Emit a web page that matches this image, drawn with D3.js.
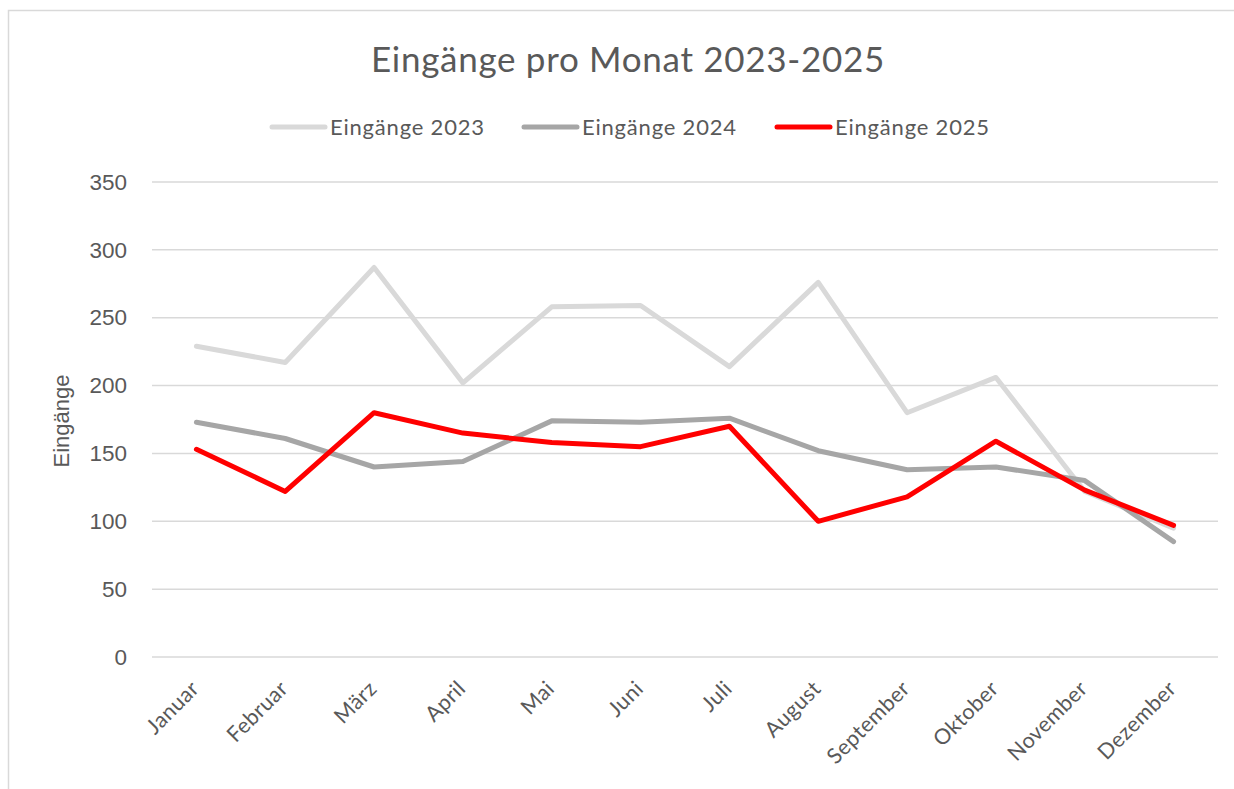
<!DOCTYPE html>
<html>
<head>
<meta charset="utf-8">
<script src="https://cdn.jsdelivr.net/npm/d3@7"></script>
<style>
  body { margin: 0; background: #fff; }
  text { fill: #595959; }
</style>
</head>
<body>
<script>
var months = ["Januar", "Februar", "März", "April", "Mai", "Juni", "Juli", "August", "September", "Oktober", "November", "Dezember"];
var eingaenge2023 = [229, 217, 287, 202, 258, 259, 214, 276, 180, 206, 122, 95];
var eingaenge2024 = [173, 161, 140, 144, 174, 173, 176, 152, 138, 140, 130, 85];
var eingaenge2025 = [153, 122, 180, 165, 158, 155, 170, 100, 118, 159, 123, 97];
var yTicks = [0, 50, 100, 150, 200, 250, 300, 350];

var series = [
  { name: "Eingänge 2023", values: eingaenge2023, color: "#d9d9d9" },
  { name: "Eingänge 2024", values: eingaenge2024, color: "#a6a6a6" },
  { name: "Eingänge 2025", values: eingaenge2025, color: "#ff0000" }
];

var w = 1234, h = 789;
var plotLeft = 152, plotRight = 1218, plotTop = 182, plotBottom = 657;

var svg = d3.select("body").append("svg")
    .attr("width", w)
    .attr("height", h);

// chart frame
svg.append("rect")
    .attr("x", 8.5).attr("y", 10.5)
    .attr("width", 1240).attr("height", 790)
    .attr("fill", "none")
    .attr("stroke", "#d9d9d9")
    .attr("stroke-width", 1.5);

var x = d3.scaleBand().domain(months).range([plotLeft, plotRight]);
var y = d3.scaleLinear().domain([0, 350]).range([plotBottom, plotTop]);

// gridlines
svg.append("g").selectAll("line")
    .data(yTicks)
  .enter().append("line")
    .attr("x1", plotLeft).attr("x2", plotRight)
    .attr("y1", function(d) { return y(d); })
    .attr("y2", function(d) { return y(d); })
    .attr("stroke", "#d9d9d9")
    .attr("stroke-width", 1.5);

// y axis labels
var yAxis = d3.axisLeft(y).tickValues(yTicks).tickSize(0).tickPadding(0);
var gy = svg.append("g")
    .attr("transform", "translate(127,0)")
    .call(yAxis);
gy.select(".domain").remove();
gy.selectAll("text")
    .attr("font-family", "Liberation Sans, Arial, sans-serif")
    .attr("font-size", 22.5)
    .attr("fill", "#595959");

// x axis labels
var xAxis = d3.axisBottom(x).tickSize(0).tickPadding(0);
var gx = svg.append("g")
    .attr("transform", "translate(0," + plotBottom + ")")
    .call(xAxis);
gx.select(".domain").remove();
gx.selectAll("text")
    .attr("font-family", "Lato, sans-serif")
    .attr("font-size", 21.5)
    .attr("letter-spacing", 0.4)
    .attr("fill", "#595959")
    .attr("text-anchor", "end")
    .attr("dy", 0)
    .attr("transform", "translate(4,33) rotate(-45)");

// lines
var line = d3.line()
    .x(function(d, i) { return x(months[i]) + x.bandwidth() / 2; })
    .y(function(d) { return y(d); });

svg.append("g").selectAll("path")
    .data(series)
  .enter().append("path")
    .attr("d", function(d) { return line(d.values); })
    .attr("fill", "none")
    .attr("stroke", function(d) { return d.color; })
    .attr("stroke-width", 5)
    .attr("stroke-linejoin", "round")
    .attr("stroke-linecap", "round");

// title
svg.append("text")
    .attr("x", 628).attr("y", 72)
    .attr("text-anchor", "middle")
    .attr("font-family", "Lato, sans-serif")
    .attr("font-size", 35)
    .attr("letter-spacing", 0.7)
    .text("Eingänge pro Monat 2023-2025");

// y axis title
svg.append("text")
    .attr("transform", "translate(69,421) rotate(-90)")
    .attr("text-anchor", "middle")
    .attr("font-family", "Liberation Sans, Arial, sans-serif")
    .attr("font-size", 22)
    .text("Eingänge");

// legend
var legendX = [272, 524, 777];
var lg = svg.append("g").selectAll("g")
    .data(series)
  .enter().append("g")
    .attr("transform", function(d, i) { return "translate(" + legendX[i] + ",127)"; });
lg.append("line")
    .attr("x1", 0).attr("x2", 53)
    .attr("stroke", function(d) { return d.color; })
    .attr("stroke-width", 5)
    .attr("stroke-linecap", "round");
lg.append("text")
    .attr("x", 58).attr("y", 7.5)
    .attr("font-family", "Lato, sans-serif")
    .attr("font-size", 22)
    .attr("letter-spacing", 0.8)
    .text(function(d) { return d.name; });
</script>
</body>
</html>
